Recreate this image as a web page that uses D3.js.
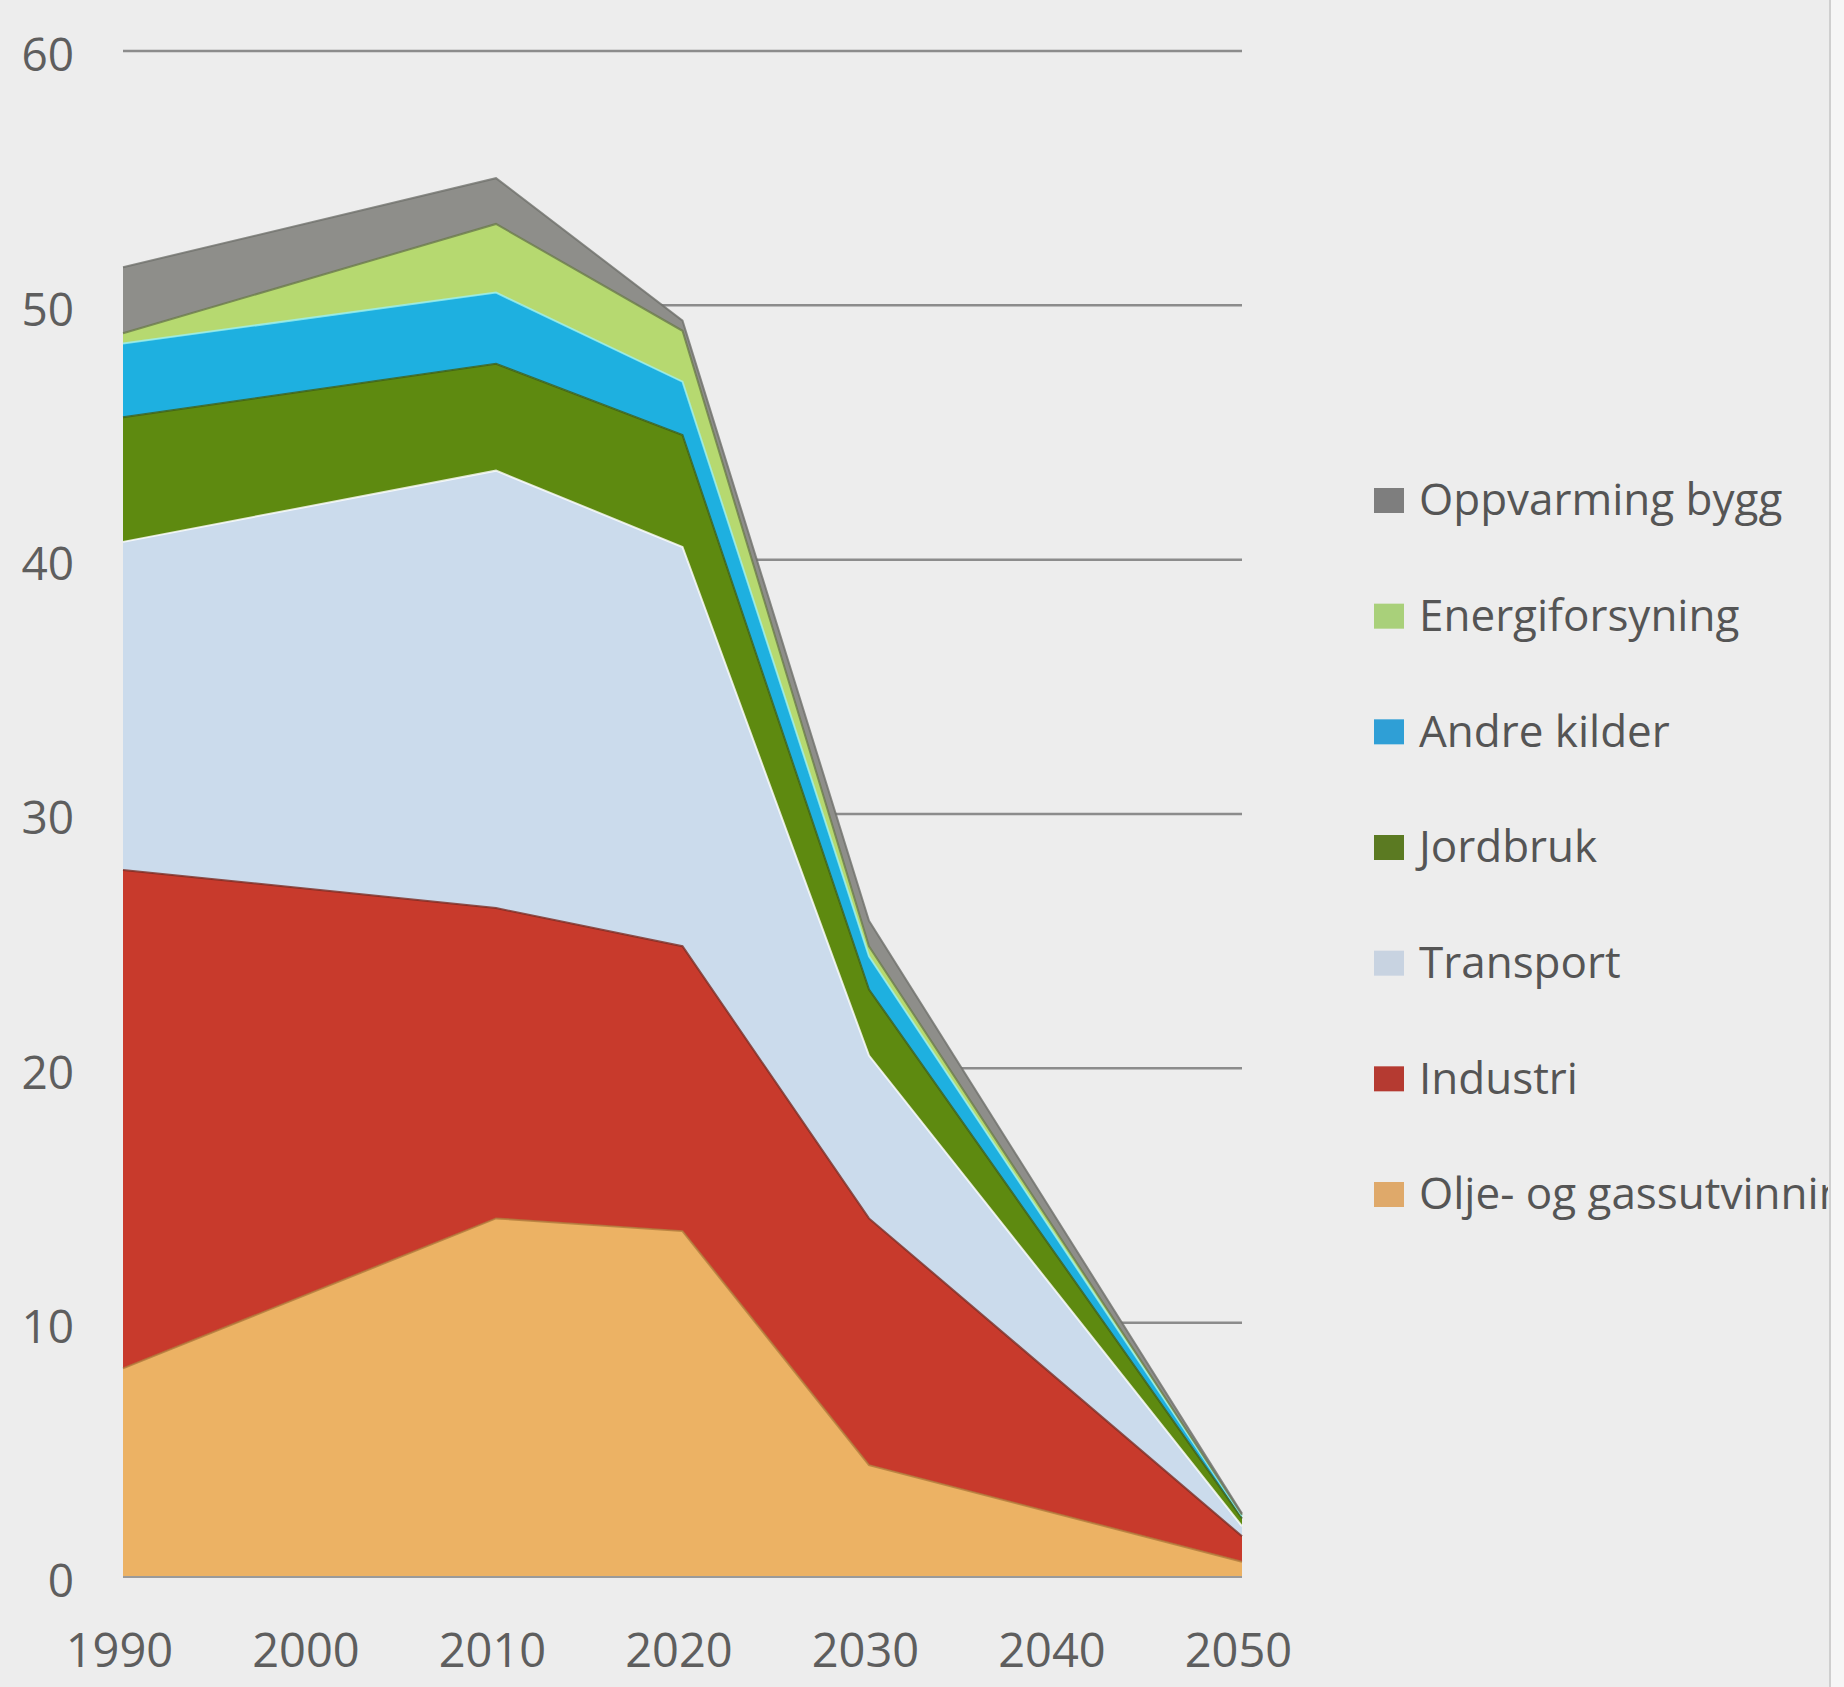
<!DOCTYPE html>
<html>
<head>
<meta charset="utf-8">
<script src="https://cdn.jsdelivr.net/npm/d3@7"></script>
<style>
  html, body { margin: 0; padding: 0; background: #ededed; }
  svg { display: block; }
  text { font-family: "Open Sans", "Noto Sans", sans-serif; }
</style>
</head>
<body>
<svg id="chart" width="1844" height="1687"></svg>
<script>
// ---- data (Mt CO2-ekv.) ----
const years = [1990, 2010, 2020, 2030, 2050];
const seriesNames = ["Olje- og gassutvinning", "Industri", "Transport", "Jordbruk", "Andre kilder", "Energiforsyning", "Oppvarming bygg"];
const oljeGass    = [8.2, 14.1, 13.6, 4.4, 0.6];
const industri    = [19.6, 12.2, 11.2, 9.7, 1.0];
const transport   = [12.9, 17.2, 15.7, 6.4, 0.4];
const jordbruk    = [4.9, 4.2, 4.4, 2.6, 0.3];
const andreKilder = [2.9, 2.8, 2.1, 1.3, 0.1];
const energi      = [0.4, 2.7, 2.0, 0.4, 0.05];
const oppvarming  = [2.6, 1.8, 0.4, 1.0, 0.05];
const yTicks = [0, 10, 20, 30, 40, 50, 60];
const xTicks = [1990, 2000, 2010, 2020, 2030, 2040, 2050];
const legendOrder = ["Oppvarming bygg", "Energiforsyning", "Andre kilder", "Jordbruk", "Transport", "Industri", "Olje- og gassutvinning"];

// ---- styles ----
const fillColors = {
  "Olje- og gassutvinning": "#ecb264",
  "Industri": "#c83a2c",
  "Transport": "#cbdbec",
  "Jordbruk": "#5e8a10",
  "Andre kilder": "#1eb0e0",
  "Energiforsyning": "#b6d970",
  "Oppvarming bygg": "#8e8e8a"
};
const edgeColors = {
  "Olje- og gassutvinning": "#b07a3a",
  "Industri": "#7a2a22",
  "Transport": "#ffffff",
  "Jordbruk": "#3f5f14",
  "Andre kilder": "#9ef0ee",
  "Energiforsyning": "#6a7a4a",
  "Oppvarming bygg": "#6f706c"
};
const swatchColors = {
  "Oppvarming bygg": "#7e7e7e",
  "Energiforsyning": "#a9d07a",
  "Andre kilder": "#2f9fd6",
  "Jordbruk": "#5b7a22",
  "Transport": "#c8d3e1",
  "Industri": "#b53a31",
  "Olje- og gassutvinning": "#dfa96a"
};

const seriesValues = {
  "Olje- og gassutvinning": oljeGass,
  "Industri": industri,
  "Transport": transport,
  "Jordbruk": jordbruk,
  "Andre kilder": andreKilder,
  "Energiforsyning": energi,
  "Oppvarming bygg": oppvarming
};
const rows = years.map((yr, i) => {
  const r = { year: yr };
  seriesNames.forEach(n => { r[n] = seriesValues[n][i]; });
  return r;
});

const svg = d3.select("#chart");

// background / right edge strip
svg.append("rect").attr("x", 0).attr("y", 0).attr("width", 1844).attr("height", 1687).attr("fill", "#ededed");
svg.append("rect").attr("x", 1830).attr("y", 0).attr("width", 14).attr("height", 1687).attr("fill", "#f6f6f6");
svg.append("line").attr("x1", 1830).attr("x2", 1830).attr("y1", 0).attr("y2", 1687)
  .attr("stroke", "#cfcfcf").attr("stroke-width", 2);

const x = d3.scaleLinear().domain([1990, 2050]).range([123, 1242]);
const y = d3.scaleLinear().domain([0, 60]).range([1577, 51]);

// gridlines
svg.append("g").selectAll("line").data(yTicks.filter(t => t > 0)).join("line")
  .attr("x1", x(1990)).attr("x2", x(2050))
  .attr("y1", d => y(d)).attr("y2", d => y(d))
  .attr("stroke", "#8c8c8c").attr("stroke-width", 2.5);

// stacked areas
const stack = d3.stack().keys(seriesNames);
const layers = stack(rows);
const area = d3.area()
  .x(d => x(d.data.year))
  .y0(d => y(d[0]))
  .y1(d => y(d[1]));
const topLine = d3.line()
  .x(d => x(d.data.year))
  .y(d => y(d[1]));

const gA = svg.append("g");
gA.selectAll("path.area").data(layers).join("path")
  .attr("class", "area")
  .attr("d", area)
  .attr("fill", d => fillColors[d.key]);
gA.selectAll("path.edge").data(layers).join("path")
  .attr("class", "edge")
  .attr("d", topLine)
  .attr("fill", "none")
  .attr("stroke", d => edgeColors[d.key])
  .attr("stroke-width", 2)
  .attr("stroke-opacity", 0.8);

// baseline
svg.append("line")
  .attr("x1", x(1990)).attr("x2", x(2050))
  .attr("y1", y(0)).attr("y2", y(0))
  .attr("stroke", "#9a9a9a").attr("stroke-width", 2);

// y axis labels
const yAxis = d3.axisLeft(y).tickValues(yTicks).tickSize(0).tickPadding(0).tickFormat(d3.format("d"));
const gy = svg.append("g").attr("transform", "translate(74,5)").call(yAxis);
gy.select(".domain").remove();
gy.selectAll("text").attr("font-size", 46).attr("fill", "#5e5e5e").attr("font-family", "'Open Sans', sans-serif");

// x axis labels
const xAxis = d3.axisBottom(x).tickValues(xTicks).tickSize(0).tickPadding(0).tickFormat(d3.format("d"));
const gx = svg.append("g").attr("transform", "translate(-4,1634)").call(xAxis);
gx.select(".domain").remove();
gx.selectAll("text").attr("font-size", 47).attr("fill", "#5e5e5e").attr("font-family", "'Open Sans', sans-serif");

// legend
svg.append("clipPath").attr("id", "legclip")
  .append("rect").attr("x", 1300).attr("y", 0).attr("width", 528).attr("height", 1687);
const leg = svg.append("g").attr("clip-path", "url(#legclip)");
const legY = d3.scalePoint().domain(legendOrder).range([500, 1194]);
const items = leg.selectAll("g").data(legendOrder).join("g")
  .attr("transform", d => `translate(1374,${legY(d)})`);
items.append("rect")
  .attr("x", 0).attr("y", -12).attr("width", 30).attr("height", 25)
  .attr("fill", d => swatchColors[d]);
items.append("text")
  .attr("x", 45).attr("y", 0).attr("dy", "0.35em")
  .attr("font-size", 44).attr("fill", "#555555")
  .text(d => d);
</script>
</body>
</html>
